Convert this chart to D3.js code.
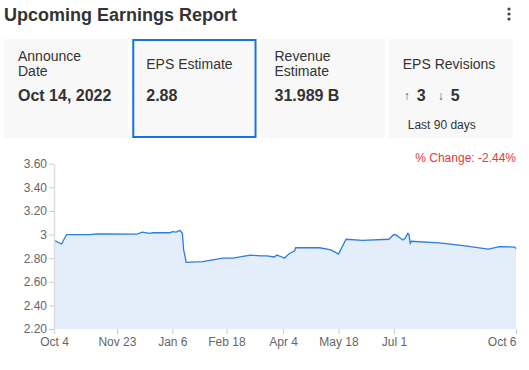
<!DOCTYPE html>
<html>
<head>
<meta charset="utf-8">
<title>Upcoming Earnings Report</title>
<style>
    body { margin: 0; background: #fff; font-family: "Liberation Sans", Arial, sans-serif; }
    .tick text { fill: #666; font-size: 12px; font-family: "Liberation Sans", Arial, sans-serif; }
    .tick line { stroke: #ccc; }
    .domain { stroke: #ddd; }
</style>
<script src="https://cdn.jsdelivr.net/npm/d3@7"></script>
</head>
<body>
<script>
    // data
    var dates = ["2021-10-04", "2021-10-10", "2021-10-14", "2021-11-01", "2021-11-07", "2021-12-09",
        "2021-12-13", "2021-12-19", "2021-12-22", "2022-01-04", "2022-01-06", "2022-01-09", "2022-01-12",
        "2022-01-14", "2022-01-15", "2022-01-17", "2022-01-30", "2022-02-15", "2022-02-23", "2022-03-09",
        "2022-03-17", "2022-03-22", "2022-03-28", "2022-03-30", "2022-04-03", "2022-04-05", "2022-04-09",
        "2022-04-13", "2022-04-14", "2022-05-03", "2022-05-12", "2022-05-18", "2022-05-24", "2022-06-06",
        "2022-06-27", "2022-07-01", "2022-07-03", "2022-07-08", "2022-07-10", "2022-07-12", "2022-07-13",
        "2022-07-14", "2022-07-15", "2022-08-06", "2022-08-22", "2022-09-14", "2022-09-23", "2022-10-05",
        "2022-10-06"];
    var eps = [2.95, 2.92, 3.00, 3.00, 3.005, 3.003,
        3.02, 3.01, 3.015, 3.015, 3.025, 3.02, 3.035,
        3.01, 2.87, 2.765, 2.77, 2.80, 2.80, 2.825,
        2.82, 2.82, 2.81, 2.826, 2.81, 2.80, 2.84,
        2.86, 2.888, 2.888, 2.87, 2.835, 2.96, 2.95,
        2.96, 3.00, 2.995, 2.954, 2.968, 3.01, 3.00,
        2.926, 2.943, 2.93, 2.91, 2.877, 2.897, 2.894,
        2.88];
    var xTicks = ["2021-10-04", "2021-11-23", "2022-01-06", "2022-02-18", "2022-04-04", "2022-05-18", "2022-07-01", "2022-10-06"];
    var yTicks = [2.2, 2.4, 2.6, 2.8, 3.0, 3.2, 3.4, 3.6];

    var cards = [
        { label: ["Announce", "Date"], value: "Oct 14, 2022" },
        { label: ["EPS Estimate"], value: "2.88" },
        { label: ["Revenue", "Estimate"], value: "31.989 B" },
        { label: ["EPS Revisions"], value: null }
    ];
    var revUp = 3, revDown = 5;
    var pctChange = "% Change: -2.44%";

    var parse = d3.timeParse("%Y-%m-%d");
    var data = dates.map(function(d, i) { return { date: parse(d), value: eps[i] }; });

    var svg = d3.select("body").append("svg")
        .attr("width", 529)
        .attr("height", 370);

    // title and menu
    svg.append("text")
        .attr("x", 4).attr("y", 21)
        .attr("font-size", 18).attr("font-weight", "bold")
        .attr("fill", "#333")
        .text("Upcoming Earnings Report");
    [9, 14, 19].forEach(function(cy) {
        svg.append("circle").attr("cx", 509).attr("cy", cy).attr("r", 1.6).attr("fill", "#444");
    });

    // cards
    var cardX = d3.scaleBand().domain(d3.range(cards.length)).range([4, 513]).paddingInner(0.031);
    var card = svg.selectAll(".card")
        .data(cards)
        .enter().append("g")
        .attr("class", "card")
        .attr("transform", function(d, i) { return "translate(" + cardX(i) + ",39)"; });

    card.append("rect")
        .attr("width", cardX.bandwidth())
        .attr("height", 99)
        .attr("fill", "#f8f8f8");

    card.filter(function(d, i) { return i === 1; })
        .append("rect")
        .attr("x", 1).attr("y", 1)
        .attr("width", cardX.bandwidth() - 2)
        .attr("height", 97)
        .attr("fill", "none")
        .attr("stroke", "#1473e6")
        .attr("stroke-width", 2);

    card.each(function(d) {
        var g = d3.select(this);
        var y0 = d.label.length > 1 ? 22 : 30;
        d.label.forEach(function(t, j) {
            g.append("text")
                .attr("x", 14).attr("y", y0 + j * 15)
                .attr("font-size", 14).attr("fill", "#333")
                .text(t);
        });
        if (d.value) {
            g.append("text")
                .attr("x", 14).attr("y", 62)
                .attr("font-size", 16).attr("font-weight", "bold").attr("fill", "#333")
                .text(d.value);
        }
    });

    var rev = card.filter(function(d, i) { return i === 3; });
    rev.append("text").attr("x", 15).attr("y", 61).attr("font-size", 12).attr("fill", "#555").text("\u2191");
    rev.append("text").attr("x", 28).attr("y", 62).attr("font-size", 16).attr("font-weight", "bold").attr("fill", "#333").text(revUp);
    rev.append("text").attr("x", 49).attr("y", 61).attr("font-size", 12).attr("fill", "#555").text("\u2193");
    rev.append("text").attr("x", 62).attr("y", 62).attr("font-size", 16).attr("font-weight", "bold").attr("fill", "#333").text(revDown);
    rev.append("text").attr("x", 19).attr("y", 90).attr("font-size", 12).attr("fill", "#333").text("Last 90 days");

    // chart
    var x = d3.scaleTime()
        .domain([parse(xTicks[0]), parse(xTicks[xTicks.length - 1])])
        .range([54, 516]);
    var y = d3.scaleLinear()
        .domain([2.2, 3.6])
        .range([329, 163.7]);

    svg.append("text")
        .attr("x", 516).attr("y", 162)
        .attr("text-anchor", "end")
        .attr("font-size", 12).attr("fill", "#e53935")
        .text(pctChange);

    var area = d3.area()
        .x(function(d) { return x(d.date); })
        .y0(y(2.2))
        .y1(function(d) { return y(d.value); });
    var line = d3.line()
        .x(function(d) { return x(d.date); })
        .y(function(d) { return y(d.value); });

    svg.append("path")
        .datum(data)
        .attr("d", area)
        .attr("fill", "#e3eefa");
    svg.append("path")
        .datum(data)
        .attr("d", line)
        .attr("fill", "none")
        .attr("stroke", "#2a7de1")
        .attr("stroke-width", 1.3);

    // axes
    var xAxis = svg.append("g")
        .attr("transform", "translate(0,329)")
        .call(d3.axisBottom(x)
            .tickValues(xTicks.map(parse))
            .tickFormat(d3.timeFormat("%b %-d"))
            .tickSize(5).tickPadding(3));
    xAxis.select(".domain").remove();
    xAxis.selectAll(".tick:last-of-type text").attr("text-anchor", "end");

    svg.append("g")
        .attr("transform", "translate(54,0)")
        .call(d3.axisLeft(y)
            .tickValues(yTicks)
            .tickFormat(function(d) { return d === 3 ? "3" : d3.format(".2f")(d); })
            .tickSize(5).tickPadding(2)
            .tickSizeOuter(0))
        .select(".domain").attr("stroke-width", 1.5);
</script>
</body>
</html>
